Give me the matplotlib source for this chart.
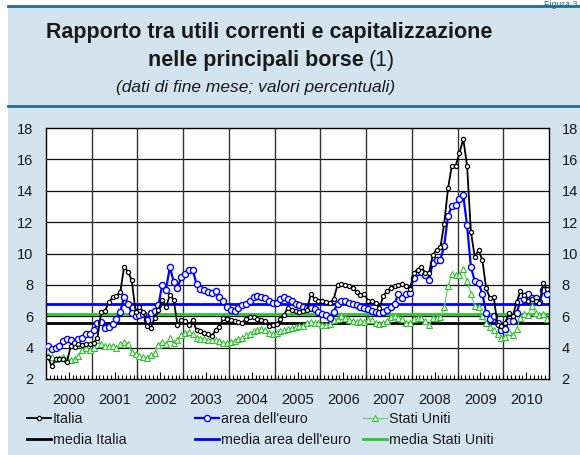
import numpy as np
import matplotlib.pyplot as plt
from matplotlib.patches import Rectangle
from matplotlib.lines import Line2D

plt.rcParams['font.family'] = 'Liberation Sans'

# monthly data, Jan 2000 - Dec 2010
italia = [
    3.4, 2.8, 3.25, 3.3, 3.3, 3.1, 4.1, 4.05, 4.25, 4.15, 4.2, 4.25,      # 2000
    4.3, 4.6, 6.3, 6.35, 6.9, 7.2, 7.3, 7.55, 9.15, 8.85, 8.3, 6.3,       # 2001
    6.6, 6.3, 5.35, 5.25, 5.9, 6.4, 7.05, 6.6, 7.35, 7.05, 5.45, 5.75,    # 2002
    5.7, 5.45, 5.75, 5.1, 5.05, 4.95, 4.9, 4.75, 5.1, 5.3, 5.9, 5.85,     # 2003
    5.75, 5.7, 5.65, 5.6, 5.85, 5.95, 5.95, 5.85, 5.75, 5.7, 5.4, 5.45,   # 2004
    5.5, 5.8, 6.1, 6.55, 6.4, 6.35, 6.3, 6.35, 6.4, 7.45, 7.1, 7.0,       # 2005
    6.95, 6.9, 6.85, 7.1, 8.0, 8.05, 8.0, 7.95, 7.8, 7.55, 7.35, 7.45,    # 2006
    7.0, 6.95, 6.85, 6.5, 7.3, 7.6, 7.8, 7.95, 8.0, 8.05, 7.9, 7.75,      # 2007
    8.75, 8.95, 9.15, 8.75, 8.75, 9.9, 10.25, 10.4, 11.9, 14.15, 15.6, 15.6,  # 2008
    16.4, 17.3, 15.6, 11.4, 9.8, 10.2, 9.6, 7.8, 7.15, 7.2, 5.45, 5.35,   # 2009
    5.6, 6.2, 6.0, 6.9, 7.6, 7.35, 7.0, 7.1, 6.95, 6.85, 8.1, 7.75,       # 2010
]
area_euro = [
    4.1, 3.9, 3.95, 4.1, 4.4, 4.55, 4.5, 4.3, 4.55, 4.6, 4.85, 4.9,
    5.1, 5.55, 5.65, 5.25, 5.3, 5.5, 5.8, 6.3, 7.25, 6.8, 6.2, 6.0,
    6.1, 6.15, 5.75, 6.2, 6.35, 6.7, 8.0, 7.7, 9.15, 8.2, 7.8, 8.5,
    8.7, 8.95, 8.95, 8.05, 7.75, 7.65, 7.55, 7.5, 7.6, 7.2, 6.95, 6.6,
    6.4, 6.35, 6.5, 6.7, 6.8, 6.95, 7.25, 7.3, 7.25, 7.15, 7.0, 6.85,
    6.85, 7.1, 7.25, 7.1, 6.95, 6.75, 6.7, 6.6, 6.5, 6.5, 6.45, 6.25,
    6.15, 6.05, 5.9, 6.3, 6.8, 7.0, 7.0, 6.85, 6.75, 6.7, 6.6, 6.55,
    6.45, 6.35, 6.3, 6.2, 6.3, 6.4, 6.6, 6.8, 7.45, 7.15, 7.45, 7.5,
    8.45, 8.8, 8.8, 8.6, 8.3, 9.4, 9.6, 9.6, 10.5, 12.4, 13.0, 13.1,
    13.45, 13.7, 11.8, 9.15, 8.25, 8.1, 7.45, 6.2, 5.8, 6.0, 5.55, 5.1,
    5.2, 5.7, 5.7, 6.2, 7.0, 7.1, 7.45, 7.15, 7.15, 6.9, 7.65, 7.45,
]
stati_uniti = [
    3.45, 3.4, 3.3, 3.35, 3.4, 3.3, 3.2, 3.3, 3.45, 3.85, 4.0, 3.85,
    3.95, 4.5, 4.2, 4.1, 4.1, 4.1, 4.0, 4.2, 4.35, 4.2, 3.7, 3.6,
    3.45, 3.4, 3.35, 3.55, 3.65, 4.15, 4.35, 4.2, 4.6, 4.3, 4.5, 4.8,
    4.95, 5.0, 4.85, 4.6, 4.55, 4.55, 4.5, 4.5, 4.47, 4.45, 4.3, 4.27,
    4.35, 4.45, 4.55, 4.6, 4.8, 4.9, 5.05, 5.1, 5.2, 5.1, 4.95, 4.9,
    4.95, 5.05, 5.1, 5.2, 5.25, 5.3, 5.35, 5.4, 5.6, 5.65, 5.55, 5.55,
    5.45, 5.45, 5.5, 5.75, 5.85, 6.0, 5.9, 5.75, 5.7, 5.65, 5.7, 5.65,
    5.75, 5.75, 5.6, 5.5, 5.6, 5.7, 5.95, 6.0, 5.9, 5.8, 5.6, 5.55,
    5.8, 5.9, 5.9, 5.7, 5.45, 5.9, 5.9, 5.95, 6.6, 7.9, 8.7, 8.6,
    8.6, 9.0, 8.25, 7.45, 6.65, 6.6, 6.0, 5.6, 5.3, 5.15, 4.9, 4.6,
    4.7, 5.0, 4.8, 5.2, 5.9, 6.15, 6.1, 6.65, 6.2, 6.1, 6.15, 5.85,
]
media_italia = 5.54
media_area = 6.78
media_usa = 6.14

years = list(range(2000, 2011))
x = 2000 + (np.arange(len(italia)) + 0.5) / 12

panel = '#d4e4ee'
rule = '#236b8e'
green_line = '#6fcf6f'
green = '#2fc42f'
ink = '#1a1a1a'

fig = plt.figure(figsize=(5.8, 4.55), dpi=100, facecolor='white')
fig.patches.append(Rectangle((8 / 580, 0), 1, 1 - 7 / 455, transform=fig.transFigure,
                             facecolor=panel, edgecolor='none', zorder=-10))
fig.add_artist(Line2D([8 / 580, 1], [1 - 6 / 455] * 2, color=rule, lw=2))
fig.add_artist(Line2D([8 / 580, 1], [1 - 106 / 455] * 2, color=rule, lw=2))
fig.text(0.995, 1.0, 'Figura 3', ha='right', va='top', color=rule, fontsize=6.5)

fig.text(269 / 580, 1 - 38 / 455, 'Rapporto tra utili correnti e capitalizzazione',
         ha='center', va='baseline', fontsize=15.5, fontweight='bold', color=ink)
fig.text(364 / 580, 1 - 66 / 455, 'nelle principali borse', ha='right', va='baseline',
         fontsize=15.5, fontweight='bold', color=ink)
fig.text(369 / 580, 1 - 66 / 455, '(1)', ha='left', va='baseline', fontsize=15.5, color=ink)
fig.text(256 / 580, 1 - 92 / 455, '(dati di fine mese; valori percentuali)', ha='center',
         va='baseline', fontsize=12.5, style='italic', color=ink)

ax = fig.add_axes([46 / 580, 1 - 379 / 455, 503 / 580, 251 / 455])
ax.set_facecolor('white')

l1, = ax.plot(x, italia, color='black', lw=1.3, marker='o', ms=3.0, mfc='white', mec='black',
              mew=0.9, label='Italia', zorder=4)
l2, = ax.plot(x, area_euro, color='#0000ff', lw=1.6, marker='o', ms=4.4, mfc='white', mec='#0000ff',
              mew=1.0, label="area dell'euro", zorder=3)
l3, = ax.plot(x, stati_uniti, color=green_line, lw=0.9, marker='^', ms=4.3, mfc='white', mec=green,
              mew=0.8, label='Stati Uniti', zorder=2)
m1 = ax.axhline(media_italia, color='black', lw=2, label='media Italia', zorder=1.5)
m2 = ax.axhline(media_area, color='#0000ff', lw=2, label="media area dell'euro", zorder=1.5)
m3 = ax.axhline(media_usa, color=green, lw=2, label='media Stati Uniti', zorder=1.5)

ax.set_xlim(2000, 2011)
ax.set_ylim(2, 18)
ax.set_yticks(range(2, 19, 2))
ax.set_xticks([y + 0.5 for y in years])
ax.set_xticklabels([str(y) for y in years])
ax.set_xticks(2000 + np.arange(0, 133) / 12, minor=True)
for yv in range(4, 18, 2):
    ax.axhline(yv, color='#111111', lw=0.9, zorder=1)
for yr in years[1:]:
    ax.axvline(yr, color='#333333', lw=1.0, zorder=1)
ax.tick_params(axis='y', length=0, labelsize=10.5, pad=9, left=True, right=True,
               labelleft=True, labelright=True, labelcolor=ink)
ax.tick_params(axis='x', which='major', direction='in', length=5, labelsize=10.5, pad=10,
               top=False, width=0.8, labelcolor=ink)
ax.tick_params(axis='x', which='minor', direction='in', length=3, top=False, width=0.8)
for sp in ax.spines.values():
    sp.set_color('black')
    sp.set_linewidth(1)

cols = [(27, l1, m1), (195, l2, m2), (363, l3, m3)]
for xp, a, b in cols:
    fig.legend(handles=[a, b], loc='upper left', bbox_to_anchor=(xp / 580, 1 - 412 / 455),
               frameon=False, fontsize=10.3, handlelength=1.65, handletextpad=0.15,
               borderpad=0, borderaxespad=0, labelspacing=0.5, numpoints=1,
               labelcolor=ink)

fig.savefig('out.png', dpi=100, facecolor='white')
